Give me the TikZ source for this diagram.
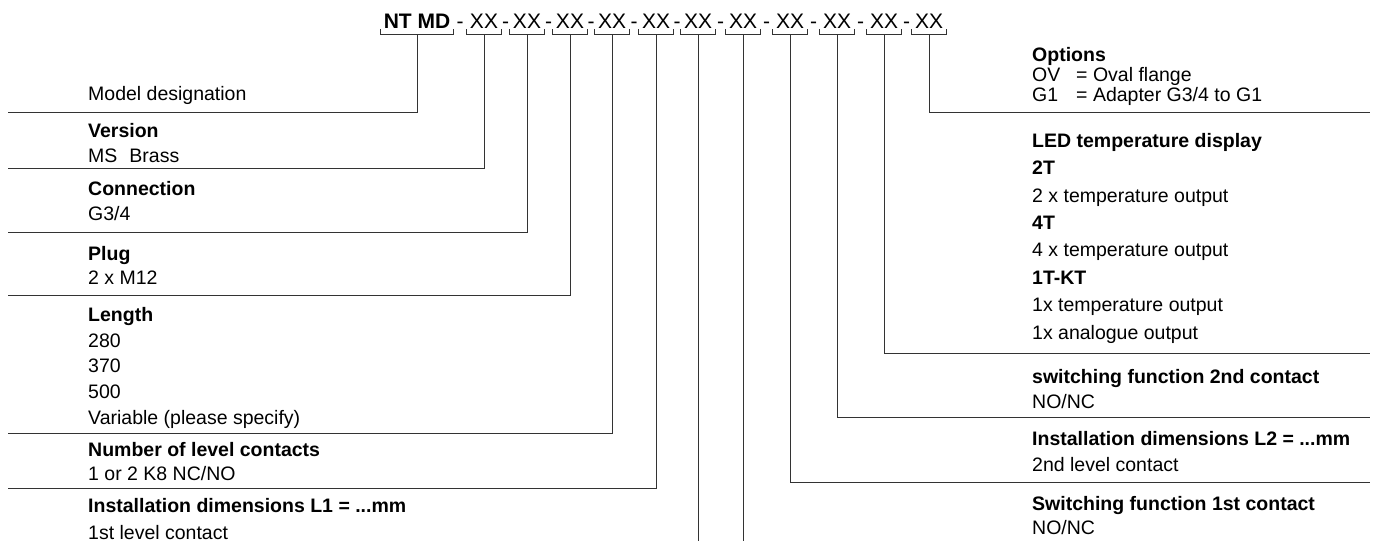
\documentclass[tikz,border=0pt]{standalone}
\usepackage{fontspec}
\setmainfont{Liberation Sans}
\usetikzlibrary{calc}

\tikzset{
  code/.style={font=\fontsize{21}{21}\selectfont, inner xsep=3pt, inner ysep=6pt, text depth=0pt, anchor=base},
  hyph/.style={font=\fontsize{21}{21}\selectfont, inner sep=0pt, anchor=base},
  lbl/.style={font=\fontsize{19.5}{25}\selectfont, align=left, anchor=north west, inner sep=0pt},
  rule/.style={line width=0.9pt, black!80},
}

\begin{document}
\begin{tikzpicture}[x=1pt, y=-1pt]
\useasboundingbox (0,0) rectangle (1376,541);
% type code
\node[code, font=\fontsize{21}{21}\selectfont\bfseries] (c0) at (417,28) {NT MD};
\node[code] (c1) at (484,28) {XX}; \node[code] (c2) at (527,28) {XX};
\node[code] (c3) at (570,28) {XX}; \node[code] (c4) at (612,28) {XX};
\node[code] (c5) at (656,28) {XX}; \node[code] (c6) at (698,28) {XX};
\node[code] (c7) at (743,28) {XX}; \node[code] (c8) at (790,28) {XX};
\node[code] (c9) at (837,28) {XX}; \node[code] (c10) at (884,28) {XX};
\node[code] (c11) at (929,28) {XX};
\foreach \a/\b in {0/1,1/2,2/3,3/4,4/5,5/6,6/7,7/8,8/9,9/10,10/11}
  \node[hyph] at ($(c\a.base east)!.5!(c\b.base west)$) {-};
\foreach \n in {0,...,11}
  \draw[rule] ([yshift=5pt]c\n.south west) |- (c\n.south) -| ([yshift=5pt]c\n.south east);

% left side
\node[lbl] (model) at (88,86) {Model designation};
\node[lbl] (version) at (88,123) {\textbf{Version}\\MS\hspace{12pt}Brass};
\node[lbl] (conn) at (88,181) {\textbf{Connection}\\G3/4};
\node[lbl, font=\fontsize{19.5}{24}\selectfont] (plug) at (88,246) {\textbf{Plug}\\2 x M12};
\node[lbl, font=\fontsize{19.5}{25.75}\selectfont] (length) at (88,307) {\textbf{Length}\\280\\370\\500\\Variable (please specify)};
\node[lbl, font=\fontsize{19.5}{24}\selectfont] (contacts) at (88,442) {\textbf{Number of level contacts}\\1 or 2 K8 NC/NO};
\node[lbl, font=\fontsize{19.5}{27}\selectfont] (instA) at (88,498) {\textbf{Installation dimensions L1 = ...mm}\\1st level contact};

% right side
\node[lbl, font=\fontsize{19.5}{20}\selectfont] (options) at (1032,47) {\textbf{Options}\\\makebox[44pt][l]{OV}= Oval flange\\\makebox[44pt][l]{G1}= Adapter G3/4 to G1};
\node[lbl, font=\fontsize{19.5}{27.4}\selectfont] (led) at (1032,133) {\textbf{LED temperature display}\\\textbf{2T}\\2 x temperature output\\\textbf{4T}\\4 x temperature output\\\textbf{1T-KT}\\1x temperature output\\1x analogue output};
\node[lbl] (switchB) at (1032,369) {\textbf{switching function 2nd contact}\\NO/NC};
\node[lbl, font=\fontsize{19.5}{26}\selectfont] (instB) at (1032,431) {\textbf{Installation dimensions L2 = ...mm}\\2nd level contact};
\node[lbl, font=\fontsize{19.5}{24}\selectfont] (switchA) at (1032,496) {\textbf{Switching function 1st contact}\\NO/NC};

% leader lines
\coordinate (lmodel) at (8,112); \coordinate (lversion) at (8,168);
\coordinate (lconn) at (8,232); \coordinate (lplug) at (8,295);
\coordinate (llength) at (8,433); \coordinate (lcontacts) at (8,488);
\coordinate (linstA) at (698,541); \coordinate (lswitchA) at (743,541);
\coordinate (linstB) at (1370,482); \coordinate (lswitchB) at (1370,417);
\coordinate (lled) at (1370,353); \coordinate (loptions) at (1370,112);
\draw[rule] (c0.south) |- (lmodel);
\draw[rule] (c1.south) |- (lversion);
\draw[rule] (c2.south) |- (lconn);
\draw[rule] (c3.south) |- (lplug);
\draw[rule] (c4.south) |- (llength);
\draw[rule] (c5.south) |- (lcontacts);
\draw[rule] (c6.south) -- (linstA);
\draw[rule] (c7.south) -- (lswitchA);
\draw[rule] (c8.south) |- (linstB);
\draw[rule] (c9.south) |- (lswitchB);
\draw[rule] (c10.south) |- (lled);
\draw[rule] (c11.south) |- (loptions);
\end{tikzpicture}
\end{document}
